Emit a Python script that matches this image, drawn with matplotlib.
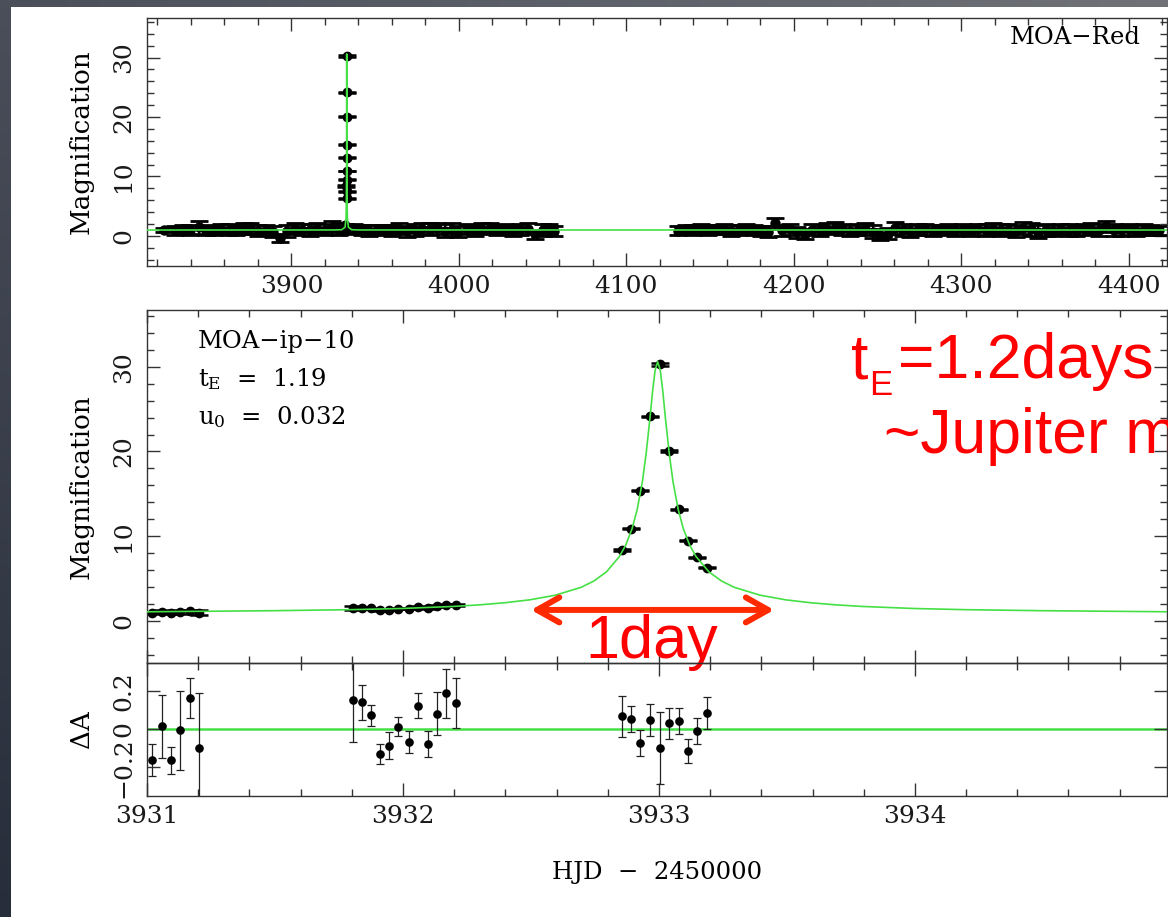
import numpy as np
import matplotlib
matplotlib.use('Agg')
import matplotlib.pyplot as plt
from matplotlib.ticker import MultipleLocator

# ---- values (HJD - 2450000) ----

# MOA-Red long baseline: time, magnification, error
base_t = [3823.8, 3830.5, 3835.0, 3839.5, 3844.6, 3849.0, 3853.5, 3858.0, 3862.5,
          3867.0, 3871.5, 3875.5, 3880.0, 3884.5, 3889.0, 3893.1, 3897.5, 3902.0,
          3906.5, 3911.0, 3915.5, 3920.0, 3924.5, 3928.5,
          3937.5, 3942.0, 3946.5, 3951.0, 3955.5, 3960.0, 3964.5, 3969.0, 3973.5,
          3978.0, 3982.5, 3987.0, 3991.5, 3996.0, 3999.5, 4005.0, 4009.5, 4014.0,
          4018.5, 4023.0, 4027.5, 4032.0, 4036.5, 4041.0, 4045.5, 4050.0, 4054.0,
          4057.0,
          4131.0, 4135.5, 4140.0, 4144.5, 4149.0, 4153.5, 4158.0, 4162.5, 4167.0,
          4171.5, 4176.0, 4180.5, 4184.5, 4188.9, 4193.0, 4197.5, 4202.0, 4206.5,
          4211.0, 4215.5, 4220.0, 4224.5, 4229.0, 4233.5, 4238.0, 4242.5, 4247.0,
          4251.5, 4256.0, 4260.5, 4265.0, 4269.5, 4274.0, 4278.5, 4283.0, 4287.5,
          4292.0, 4296.5, 4301.0, 4305.5, 4310.0, 4314.5, 4319.0, 4323.5, 4328.0,
          4332.5, 4337.0, 4341.5, 4346.0, 4350.5, 4355.0, 4359.5, 4364.0, 4368.5,
          4373.0, 4377.5, 4382.0, 4386.5, 4391.0, 4395.5, 4400.0, 4404.5, 4409.0,
          4413.5, 4418.0]
base_A = [1.00, 0.95, 1.10, 1.05, 1.45, 1.00, 0.90, 1.15, 1.05,
          0.95, 1.20, 1.30, 0.90, 1.00, 0.75, -0.35, 0.85, 1.25,
          1.05, 0.95, 1.20, 1.05, 1.40, 1.10,
          1.15, 1.00, 0.90, 1.05, 1.10, 0.95, 1.20, 0.80, 0.95,
          1.25, 1.10, 1.30, 0.90, 1.05, 0.70, 1.10, 0.95, 1.20,
          1.35, 1.00, 1.15, 0.90, 1.10, 1.25, 0.30, 0.95, 1.05,
          0.85,
          0.90, 1.05, 1.00, 1.15, 0.95, 1.10, 1.20, 0.90, 1.05,
          1.15, 1.00, 0.85, 0.70, 2.10, 0.95, 1.10, 0.60, 0.30,
          1.05, 0.95, 1.25, 1.40, 1.10, 0.90, 1.05, 1.20, 0.75,
          0.20, 0.40, 1.30, 1.00, 0.85, 1.05, 1.10, 0.90, 1.00,
          1.15, 0.95, 1.05, 0.85, 1.10, 1.00, 1.20, 0.95, 1.05,
          0.80, 1.35, 1.10, 0.75, 1.05, 0.90, 1.15, 1.00, 0.85,
          1.10, 1.25, 1.00, 1.60, 1.05, 0.95, 1.10, 0.90, 1.05,
          1.00, 0.95]
base_err = [0.40, 0.75, 0.80, 0.85, 1.10, 0.85, 0.80, 0.85, 0.90,
            0.85, 0.95, 0.90, 0.90, 0.85, 0.90, 0.70, 0.95, 0.95,
            0.95, 1.00, 0.90, 0.95, 1.05, 1.00,
            0.90, 0.85, 0.90, 0.85, 0.80, 0.90, 0.95, 0.95, 1.00,
            0.95, 1.00, 0.95, 1.05, 1.10, 0.95, 0.85, 0.90, 0.95,
            0.90, 0.85, 0.90, 0.85, 0.90, 0.95, 0.75, 1.00, 0.95,
            0.85,
            0.75, 0.80, 0.85, 0.80, 0.85, 0.80, 0.85, 0.90, 0.85,
            0.90, 0.85, 0.90, 0.95, 1.00, 0.90, 0.95, 0.95, 0.85,
            0.90, 0.95, 1.00, 0.95, 0.95, 0.90, 0.95, 1.00, 1.05,
            0.90, 0.95, 1.00, 1.00, 0.95, 0.90, 0.95, 0.90, 0.85,
            0.90, 0.95, 0.90, 0.85, 0.90, 0.95, 0.90, 1.00, 0.95,
            1.00, 1.05, 1.10, 1.05, 1.00, 0.95, 0.90, 0.95, 0.90,
            0.95, 1.00, 1.00, 0.95, 1.00, 0.95, 0.90, 0.95, 0.90,
            0.85, 0.80]

# the three nights around the peak: time, magnification, residual, error
obs_t = [3931.021, 3931.057, 3931.093, 3931.129, 3931.167, 3931.203,
         3931.803, 3931.839, 3931.873, 3931.910, 3931.946, 3931.982,
         3932.022, 3932.060, 3932.097, 3932.132, 3932.169, 3932.205,
         3932.855, 3932.891, 3932.927, 3932.963, 3933.003, 3933.040,
         3933.077, 3933.113, 3933.148, 3933.186]
obs_A = [0.90, 1.07, 0.90, 1.05, 1.22, 0.96,
         1.55, 1.55, 1.47, 1.25, 1.33, 1.46,
         1.44, 1.70, 1.49, 1.72, 1.90, 1.90,
         8.38, 10.91, 15.35, 24.13, 30.31, 20.04,
         13.19, 9.49, 7.52, 6.30]
obs_dA = [-0.160, 0.014, -0.164, -0.007, 0.162, -0.098,
          0.149, 0.139, 0.071, -0.131, -0.087, 0.012,
          -0.068, 0.122, -0.077, 0.081, 0.186, 0.136,
          0.066, 0.052, -0.073, 0.047, -0.099, 0.029,
          0.043, -0.115, -0.012, 0.085]
obs_err = [0.083, 0.166, 0.070, 0.207, 0.106, 0.285,
           0.217, 0.093, 0.054, 0.053, 0.070, 0.051,
           0.058, 0.064, 0.068, 0.110, 0.129, 0.132,
           0.107, 0.066, 0.066, 0.085, 0.186, 0.080,
           0.067, 0.064, 0.068, 0.084]

# green model curve
model_t = [3930.995, 3931.495, 3931.795, 3931.995, 3932.195, 3932.295, 3932.395,
           3932.495, 3932.595, 3932.695, 3932.745, 3932.795, 3932.845, 3932.870,
           3932.895, 3932.915, 3932.935, 3932.950, 3932.965, 3932.975, 3932.985,
           3932.995, 3933.005, 3933.015, 3933.025, 3933.040, 3933.055, 3933.075,
           3933.095, 3933.120, 3933.145, 3933.195, 3933.245, 3933.295, 3933.395,
           3933.495, 3933.595, 3933.695, 3933.795, 3933.995, 3934.195, 3934.495,
           3934.995]
model_A = [1.08, 1.21, 1.33, 1.47, 1.71, 1.89, 2.14,
           2.49, 3.04, 3.96, 4.70, 5.80, 7.59, 8.94,
           10.9, 13.17, 16.4, 19.8, 24.0, 27.1, 29.6,
           30.6, 29.6, 27.1, 24.0, 19.8, 16.4, 13.17,
           10.9, 8.94, 7.59, 5.80, 4.70, 3.96, 3.04,
           2.49, 2.14, 1.89, 1.71, 1.47, 1.33, 1.21,
           1.08]

# model on the long baseline (spike at the event)
wide_model_t = [3813.5, 3925.0, 3930.0, 3931.995, 3932.595, 3932.795, 3932.895,
                3932.965, 3932.995, 3933.025, 3933.095, 3933.195, 3933.395,
                3933.995, 3936.0, 3941.0, 4422.8]
wide_model_A = [1.0, 1.01, 1.05, 1.47, 3.04, 5.8, 10.9,
                24.0, 30.6, 24.0, 10.9, 5.8, 3.04,
                1.47, 1.05, 1.01, 1.0]

GREEN = '#45e045'
RED = '#ff0000'
MINUS = '\u2212'
FS = 18

plt.rcParams['font.family'] = 'DejaVu Serif'
plt.rcParams['mathtext.fontset'] = 'dejavuserif'
plt.rcParams['axes.edgecolor'] = '#333333'
plt.rcParams['axes.linewidth'] = 1.0


def style_axes(ax):
    ax.tick_params(which='both', direction='in', top=True, right=True,
                   color='#333333', width=1.0, labelsize=FS,
                   labelcolor='#1a1a1a')
    ax.tick_params(which='major', length=9.5)
    ax.tick_params(which='minor', length=4.7)
    ax.tick_params(axis='x', pad=7)
    ax.tick_params(axis='y', pad=8)


def gradient(c0, c1, n, m, vertical):
    # slide border strip, colour blend from c0 to c1
    c0 = np.array(c0) / 255.0
    c1 = np.array(c1) / 255.0
    f = np.linspace(0, 1, n if vertical else m)
    if vertical:
        img = c0 + (c1 - c0) * f[:, None, None] * np.ones((n, m, 1))
    else:
        img = c0 + (c1 - c0) * f[None, :, None] * np.ones((n, m, 1))
    return img


def main():
    W, H = 1168, 917
    fig = plt.figure(figsize=(W / 100, H / 100), dpi=100)
    fig.patch.set_facecolor('white')

    # dark slide border at left and top
    fig.figimage(gradient((74, 79, 90), (39, 45, 58), H, 11, True),
                 xo=0, yo=0, origin='upper', zorder=-5)
    fig.figimage(gradient((74, 79, 90), (112, 114, 119), 7, W, False),
                 xo=0, yo=H - 7, origin='upper', zorder=-5)

    left = 146.6 / W
    width = (1167 - 146.6) / W
    ylab_x = (81 - 146.6) / (1167 - 146.6)
    ax_top = fig.add_axes([left, 1 - 265.7 / H, width, (265.7 - 18.3) / H])
    ax_mid = fig.add_axes([left, 1 - 663.3 / H, width, (663.3 - 310) / H])
    ax_res = fig.add_axes([left, 1 - 795.7 / H, width, (795.7 - 663.3) / H])
    ax_res.patch.set_visible(False)

    # ---- top: full season ----
    ax_top.errorbar(base_t, base_A, yerr=base_err, fmt='o', ms=6.5, color='k',
                    elinewidth=1.4, capsize=6.5, capthick=2.0, zorder=2)
    ax_top.errorbar(obs_t, obs_A, yerr=obs_err, fmt='o', ms=6.0, color='k',
                    elinewidth=1.2, capsize=6.5, capthick=1.8, zorder=2)
    ax_top.plot(wide_model_t, wide_model_A, color=GREEN, lw=1.2, zorder=3)
    ax_top.set_xlim(3813.5, 4422.8)
    ax_top.set_ylim(-5.0, 36.6)
    ax_top.xaxis.set_major_locator(MultipleLocator(100))
    ax_top.xaxis.set_minor_locator(MultipleLocator(20))
    ax_top.set_yticks([0, 10, 20, 30])
    ax_top.set_yticklabels(['0', '10', '20', '30'], rotation=90, va='center')
    ax_top.yaxis.set_minor_locator(MultipleLocator(2))
    ax_top.set_ylabel('Magnification', fontsize=18.8, va='center')
    ax_top.yaxis.set_label_coords(ylab_x, 0.5)
    ax_top.text(4407.1, 32.2, 'MOA' + MINUS + 'Red', fontsize=17.5,
                ha='right', va='baseline')
    style_axes(ax_top)

    # ---- middle: zoom on the peak ----
    ax_mid.errorbar(obs_t, obs_A, yerr=obs_err, fmt='o', ms=6.0, color='k',
                    elinewidth=1.2, capsize=6.5, capthick=1.8, zorder=2)
    ax_mid.plot(model_t, model_A, color=GREEN, lw=1.2, zorder=3)
    ax_mid.set_xlim(3930.998, 3934.985)
    ax_mid.set_ylim(-5.0, 36.7)
    ax_mid.xaxis.set_major_locator(MultipleLocator(1))
    ax_mid.xaxis.set_minor_locator(MultipleLocator(0.2))
    ax_mid.tick_params(labelbottom=False)
    ax_mid.set_yticks([0, 10, 20, 30])
    ax_mid.set_yticklabels(['0', '10', '20', '30'], rotation=90, va='center')
    ax_mid.yaxis.set_minor_locator(MultipleLocator(2))
    ax_mid.set_ylabel('Magnification', fontsize=18.8, va='center')
    ax_mid.yaxis.set_label_coords(ylab_x, 0.5)
    style_axes(ax_mid)

    ax_mid.text(3931.199, 32.2, 'MOA' + MINUS + 'ip' + MINUS + '10', fontsize=17.5,
                va='baseline')
    ax_mid.text(3931.199, 27.7, r't$_{\rm E}$  =  1.19', fontsize=17.5, va='baseline')
    ax_mid.text(3931.199, 23.2, r'u$_{0}$  =  0.032', fontsize=17.5, va='baseline')

    # red annotations
    red_font = dict(family='Liberation Sans', color=RED)
    ax_mid.text(3933.750, 28.65, 't', fontsize=45, va='baseline', **red_font)
    ax_mid.text(3933.822, 26.65, 'E', fontsize=25, va='baseline', **red_font)
    ax_mid.text(3933.934, 28.65, '=1.2days', fontsize=45, va='baseline', **red_font)
    ax_mid.text(3933.880, 19.8, '~Jupiter mass', fontsize=45, va='baseline',
                **red_font)
    ax_mid.annotate('', xy=(3932.50, 1.3), xytext=(3933.45, 1.3),
                    arrowprops=dict(arrowstyle='<->,head_length=0.8,head_width=0.45',
                                    lw=4.3, color='#ff2a00', mutation_scale=20,
                                    shrinkA=0, shrinkB=0), zorder=5)
    ax_mid.text(3932.973, -4.4, '1day', fontsize=44, ha='center', va='baseline',
                zorder=6, **red_font)

    # ---- bottom: residuals ----
    ax_res.axhline(0, color=GREEN, lw=1.8, zorder=1)
    ax_res.errorbar(obs_t, obs_dA, yerr=obs_err, fmt='o', ms=5.2, color='k',
                    ecolor='#222222', elinewidth=0.9, capsize=2.8, capthick=0.9,
                    zorder=2)
    ax_res.set_xlim(3930.998, 3934.985)
    ax_res.set_ylim(-0.348, 0.343)
    ax_res.xaxis.set_major_locator(MultipleLocator(1))
    ax_res.xaxis.set_minor_locator(MultipleLocator(0.2))
    ax_res.xaxis.set_major_formatter(plt.FormatStrFormatter('%d'))
    ax_res.set_yticks([-0.2, 0, 0.2])
    ax_res.set_yticklabels([MINUS + '0.2', '0', '0.2'], rotation=90, va='center')
    ax_res.set_ylabel('\u0394A', fontsize=18.8, va='center')
    ax_res.yaxis.set_label_coords(ylab_x, 0.5)
    ax_res.set_xlabel('HJD  ' + MINUS + '  2450000', fontsize=17.5)
    ax_res.xaxis.set_label_coords(0.5, -0.49)
    style_axes(ax_res)

    fig.savefig('out.png', dpi=100)


if __name__ == '__main__':
    main()
